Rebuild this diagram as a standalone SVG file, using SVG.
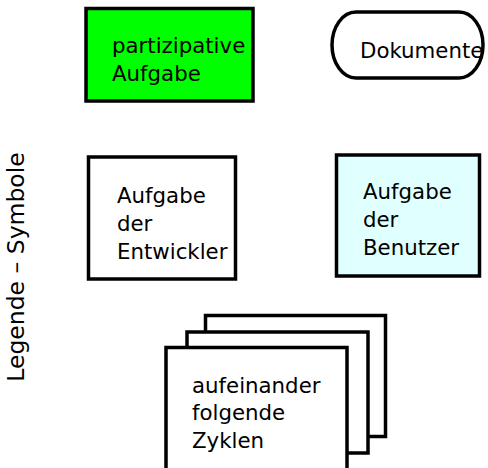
<svg xmlns="http://www.w3.org/2000/svg" width="488" height="468" viewBox="0 0 488 468">
<style>
  .box { stroke: #000; stroke-width: 3.5; }
  .lbl { font-family: "DejaVu Sans", sans-serif; font-size: 21.3px; fill: #000; }
  .title { font-family: "DejaVu Sans", sans-serif; font-size: 23.5px; fill: #000; }
</style>
<rect width="488" height="468" fill="#fff"/>
<g id="legend-title">
  <text class="title" transform="translate(24,267) rotate(-90)" text-anchor="middle">Legende – Symbole</text>
</g>
<g id="partizipative-aufgabe">
  <rect class="box" x="86" y="8.5" width="167" height="92.5" fill="#00ff00"/>
  <text class="lbl" x="112" y="53">partizipative</text>
  <text class="lbl" x="112" y="81">Aufgabe</text>
</g>
<g id="dokumente">
  <rect class="box" x="332" y="12" width="151" height="66" rx="24" ry="33" fill="#fff"/>
  <text class="lbl" x="360" y="58">Dokumente</text>
</g>
<g id="aufgabe-entwickler">
  <rect class="box" x="88.5" y="157" width="147" height="122" fill="#fff"/>
  <text class="lbl" x="117" y="203">Aufgabe</text>
  <text class="lbl" x="117" y="231">der</text>
  <text class="lbl" x="117" y="259">Entwickler</text>
</g>
<g id="aufgabe-benutzer">
  <rect class="box" x="336.5" y="155" width="143" height="121" fill="#e0ffff"/>
  <text class="lbl" x="363" y="199">Aufgabe</text>
  <text class="lbl" x="363" y="227">der</text>
  <text class="lbl" x="363" y="255">Benutzer</text>
</g>
<g id="zyklen">
  <rect class="box" x="205.5" y="315.5" width="180" height="121" fill="#fff"/>
  <rect class="box" x="187" y="332" width="181" height="121" fill="#fff"/>
  <rect class="box" x="166" y="347.5" width="181" height="130" fill="#fff"/>
  <text class="lbl" x="192" y="393">aufeinander</text>
  <text class="lbl" x="192" y="420">folgende</text>
  <text class="lbl" x="192" y="448">Zyklen</text>
</g>
<g id="connectors"></g>
</svg>
